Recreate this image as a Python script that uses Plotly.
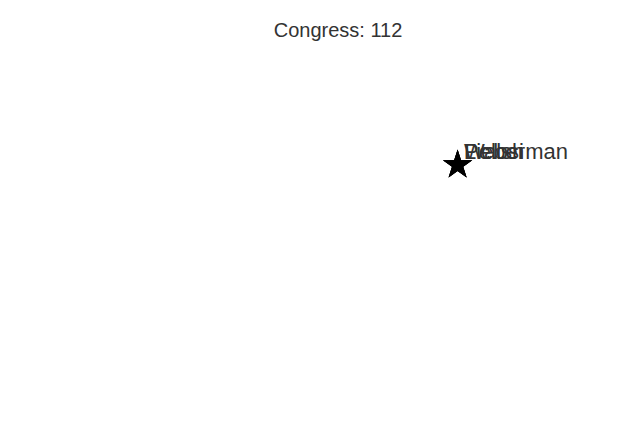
import plotly.graph_objects as go

congress = 112
names = ["Pelosi", "Walsh", "Lieberman"]
dim1 = [0.43, 0.43, 0.43]
dim2 = [0.25, 0.25, 0.25]

fig = go.Figure()
fig.add_trace(go.Scatter(
    x=dim1, y=dim2, mode="markers",
    marker=dict(symbol="star", size=22, color="black"),
    showlegend=False, hovertext=names, hoverinfo="text",
))
for xv, yv, name in zip(dim1, dim2, names):
    fig.add_annotation(
        x=xv, y=yv, xref="x", yref="y", text=name, showarrow=False,
        xanchor="left", yanchor="middle", xshift=4, yshift=14,
        font=dict(family="Liberation Sans, Arial, sans-serif", size=22, color="#333333"),
    )
fig.update_layout(
    width=640, height=440,
    margin=dict(l=0, r=0, t=0, b=0),
    paper_bgcolor="white", plot_bgcolor="white",
    title=dict(text=f"Congress: {congress}", x=338/640, xref="container", xanchor="center",
               y=1 - 30/440, yref="container", yanchor="middle",
               font=dict(family="Liberation Sans, Arial, sans-serif", size=20, color="#333333")),
    xaxis=dict(range=[-1, 1], visible=False),
    yaxis=dict(range=[-1, 1], visible=False),
)
fig.write_html("out.html")
